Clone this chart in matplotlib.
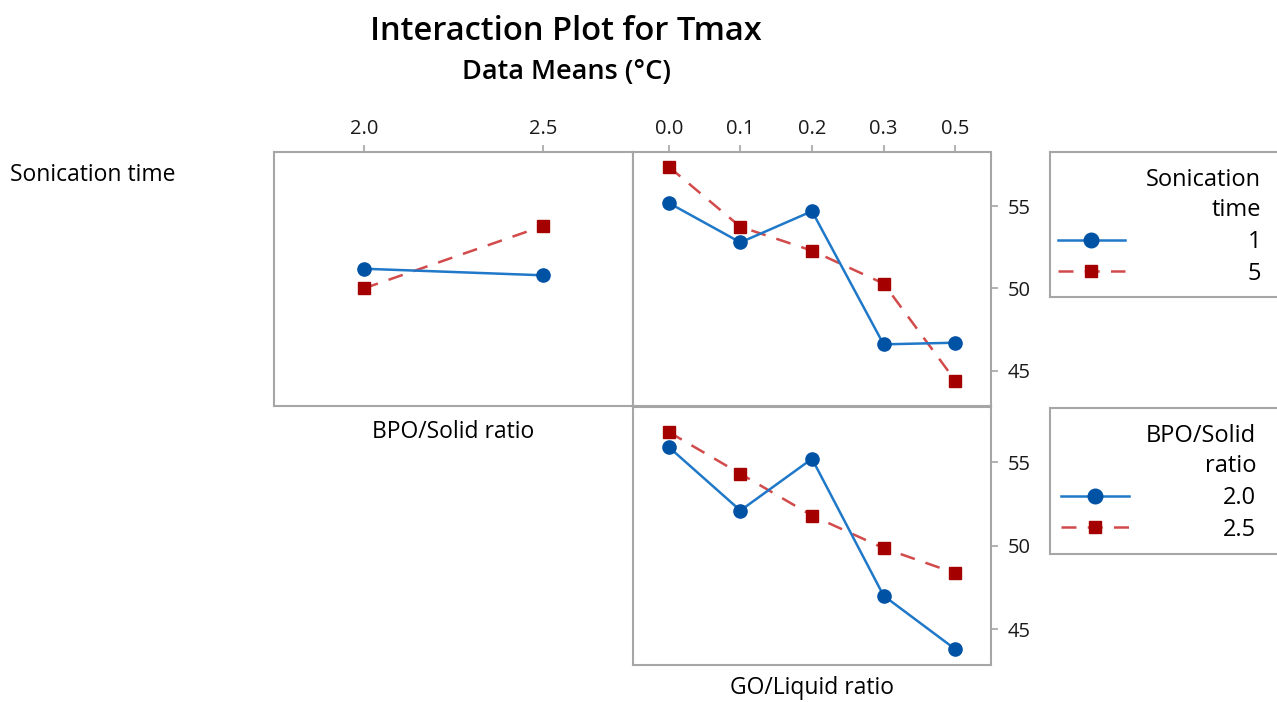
import matplotlib.pyplot as plt
from matplotlib.lines import Line2D

# data (Tmax means, degC)
bpo_levels = ['2.0', '2.5']
go_levels = ['0.0', '0.1', '0.2', '0.3', '0.5']
son_levels = ['1', '5']

son1_vs_bpo = [51.2, 50.8]
son5_vs_bpo = [50.0, 53.8]
son1_vs_go = [55.2, 52.8, 54.7, 46.6, 46.7]
son5_vs_go = [57.4, 53.75, 52.3, 50.3, 44.4]
bpo20_vs_go = [55.9, 52.1, 55.2, 47.0, 43.8]
bpo25_vs_go = [56.8, 54.3, 51.8, 49.85, 48.35]

plt.rcParams['font.family'] = ['Open Sans', 'DejaVu Sans']

W, H = 1277, 702
fig = plt.figure(figsize=(W / 100, H / 100), dpi=100)


def box(l, t, r, b):
    return [l / W, 1 - b / H, (r - l) / W, (b - t) / H]


blue_line, blue_mk = '#1f78c8', '#0052a5'
red_line, red_mk = '#d24a4a', '#a50000'
frame = '#a6a6a6'
ylim = (42.85, 58.3)


def style(ax, ncat):
    ax.set_xlim(-0.5, ncat - 0.5)
    ax.set_ylim(*ylim)
    for s in ax.spines.values():
        s.set_color(frame)
        s.set_linewidth(1.5)
    ax.tick_params(colors=frame, labelcolor='#1a1a1a', labelsize=14.5,
                   length=5, width=1.2)


def draw(ax, levels, a, b):
    x = range(len(levels))
    ax.plot(x, a, color=blue_line, lw=1.8, marker='o', ms=9.5,
            mfc=blue_mk, mec=blue_mk, zorder=3)
    ax.plot(x, b, color=red_line, lw=1.8, ls=(0, (6, 4.5)), marker='s', ms=8.5,
            mfc=red_mk, mec=red_mk, zorder=2)


ax_tl = fig.add_axes(box(274, 152, 633, 406))
ax_tr = fig.add_axes(box(633, 152, 991, 406))
ax_br = fig.add_axes(box(633, 407, 991, 665))

draw(ax_tl, bpo_levels, son1_vs_bpo, son5_vs_bpo)
draw(ax_tr, go_levels, son1_vs_go, son5_vs_go)
draw(ax_br, go_levels, bpo20_vs_go, bpo25_vs_go)

style(ax_tl, len(bpo_levels))
style(ax_tr, len(go_levels))
style(ax_br, len(go_levels))

for ax, levels in [(ax_tl, bpo_levels), (ax_tr, go_levels)]:
    ax.xaxis.tick_top()
    ax.set_xticks(range(len(levels)))
    ax.set_xticklabels(levels)
    ax.tick_params(axis='x', pad=4)
ax_br.set_xticks([])

ax_tl.set_yticks([])
for ax in (ax_tr, ax_br):
    ax.yaxis.tick_right()
    ax.set_yticks([45, 50, 55])
    ax.tick_params(axis='y', pad=7)


# legends in their own framed boxes at the right
def legend_box(t, b, title, labels, textpad, right):
    lax = fig.add_axes(box(1050, t, 1300, b))
    lax.set_xticks([])
    lax.set_yticks([])
    for s in lax.spines.values():
        s.set_color(frame)
        s.set_linewidth(1.5)
    handles = [
        Line2D([], [], color=blue_line, lw=1.8, marker='o', ms=10.5,
               mfc=blue_mk, mec=blue_mk),
        Line2D([], [], color=red_line, lw=1.8, ls=(0, (6, 4.5)), marker='s',
               ms=9, mfc=red_mk, mec=red_mk),
    ]
    leg = fig.legend(handles, labels, title=title, loc='upper right',
                     bbox_to_anchor=(right / W, 1 - (t + 11) / H),
                     borderaxespad=0, borderpad=0.2, frameon=False,
                     alignment='right', fontsize=17, title_fontsize=17,
                     handlelength=2.85, handletextpad=textpad,
                     labelspacing=0.33)
    leg.get_title().set_multialignment('right')
    leg.get_title().set_linespacing(1.35)


legend_box(152, 297, 'Sonication\ntime', son_levels, 5.2, 1266)
legend_box(408, 554, 'BPO/Solid\nratio', bpo_levels, 4.0, 1261)

fig.text(566 / W, 1 - 31 / H, 'Interaction Plot for Tmax', ha='center',
         va='center', fontsize=23.5, fontweight='semibold')
fig.text(566 / W, 1 - 72 / H, 'Data Means (°C)', ha='center', va='center',
         fontsize=19.5, fontweight='semibold')
fig.text(10 / W, 1 - 175 / H, 'Sonication time', ha='left', va='center',
         fontsize=16.5)
fig.text(453 / W, 1 - 432 / H, 'BPO/Solid ratio', ha='center', va='center',
         fontsize=16.5)
fig.text(812 / W, 1 - 688 / H, 'GO/Liquid ratio', ha='center', va='center',
         fontsize=16.5)

fig.savefig('out.png', dpi=100)
